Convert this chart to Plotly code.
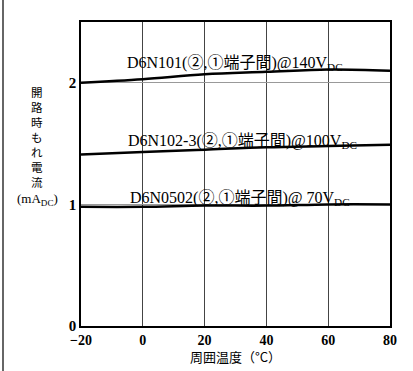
import plotly.graph_objects as go

temps = [-20, 0, 20, 40, 60, 80]
d6n101 = [2.00, 2.03, 2.07, 2.09, 2.11, 2.10]
d6n102_3 = [1.41, 1.43, 1.45, 1.47, 1.48, 1.49]
d6n0502 = [0.98, 0.98, 0.99, 0.99, 1.00, 1.00]

labels = [
    "D6N101(②,①端子間)@140V<sub>DC</sub>",
    "D6N102-3(②,①端子間)@100V<sub>DC</sub>",
    "D6N0502(②,①端子間)@ 70V<sub>DC</sub>",
]
label_x = [-5.8, -5.5, -4.8]
label_y = [2.16, 1.52, 1.05]

x_ticks = [-20, 0, 20, 40, 60, 80]
x_ticktext = ["−20", "0", "20", "40", "60", "80"]
y_ticks = [0, 1, 2]
y_ticktext = ["0", "1", "2"]

ytitle_chars = ["開", "路", "時", "も", "れ", "電", "流"]

W, H = 413, 371
L, R, T, B = 81, 23, 22, 45
pw, ph = W - L - R, H - T - B

def px_x(x):
    return (x - L) / pw

def px_y(y):
    return (H - B - y) / ph

latin = "Liberation Serif, Noto Sans CJK JP, serif"
cjk = "Noto Sans CJK JP, sans-serif"

fig = go.Figure()
for ys in [d6n101, d6n102_3, d6n0502]:
    fig.add_trace(go.Scatter(x=temps, y=ys, mode="lines",
                             line=dict(color="black", width=2.5, shape="spline"),
                             showlegend=False, hoverinfo="skip"))

annotations = []
for t, x, y in zip(labels, label_x, label_y):
    annotations.append(dict(x=x, y=y, xref="x", yref="y", text=t, showarrow=False,
                            xanchor="left", yanchor="middle",
                            font=dict(family=latin, size=16, color="black")))

annotations.append(dict(x=px_x(37), y=px_y(137), xref="paper", yref="paper",
                        text="<br>".join(ytitle_chars), showarrow=False,
                        xanchor="center", yanchor="middle",
                        font=dict(family=cjk, size=11.5, color="black")))
annotations.append(dict(x=px_x(37), y=px_y(199), xref="paper", yref="paper",
                        text="(mA<sub>DC</sub>)", showarrow=False, xanchor="center",
                        yanchor="middle", font=dict(family=latin, size=13, color="black")))
annotations.append(dict(x=px_x(235), y=px_y(356), xref="paper", yref="paper",
                        text="周囲温度（°C）", showarrow=False, xanchor="center",
                        yanchor="middle", font=dict(family=cjk, size=13, color="black")))

fig.update_layout(
    width=W, height=H,
    margin=dict(l=L, r=R, t=T, b=B),
    paper_bgcolor="white", plot_bgcolor="white",
    annotations=annotations,
    shapes=[dict(type="line", xref="paper", yref="paper",
                 x0=px_x(3), x1=px_x(3), y0=px_y(0), y1=px_y(H),
                 line=dict(color="#333", width=1.5))],
    xaxis=dict(range=[-20, 80], tickvals=x_ticks, ticktext=x_ticktext,
               showgrid=True, gridcolor="#444", gridwidth=1,
               showline=True, linecolor="black", linewidth=1.5, mirror=True,
               zeroline=False, ticks="",
               tickfont=dict(family=latin, size=14, color="black", weight="bold")),
    yaxis=dict(range=[0, 2.5], tickvals=y_ticks, ticktext=y_ticktext,
               showgrid=True, gridcolor="#999", gridwidth=1,
               showline=True, linecolor="black", linewidth=1.5, mirror=True,
               zeroline=False, ticks="",
               tickfont=dict(family=latin, size=15, color="black", weight="bold")),
)

fig.write_html("out.html", config={"displayModeBar": False},
               post_script="document.body.style.margin='0';")
